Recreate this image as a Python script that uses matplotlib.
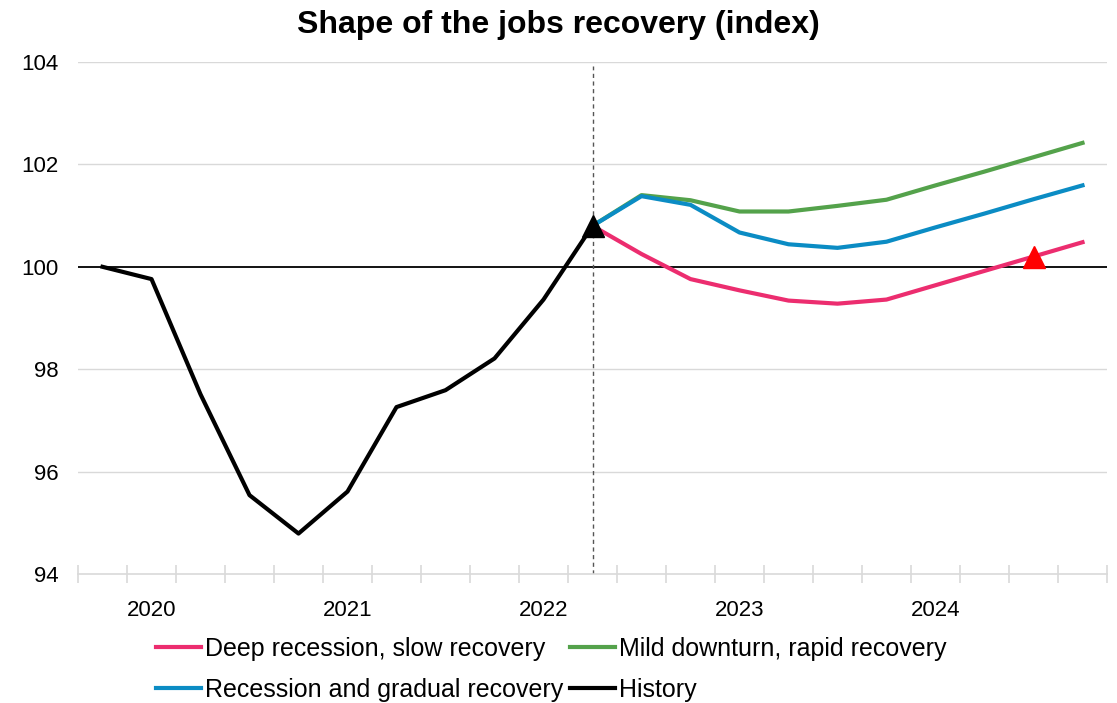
import matplotlib
matplotlib.use("Agg")
import matplotlib.pyplot as plt
import numpy as np

plt.rcParams['font.family'] = ['Liberation Sans', 'DejaVu Sans']

# quarterly categories, 2019Q4 .. 2024Q4
quarters = ['2019Q4', '2020Q1', '2020Q2', '2020Q3', '2020Q4',
            '2021Q1', '2021Q2', '2021Q3', '2021Q4',
            '2022Q1', '2022Q2', '2022Q3', '2022Q4',
            '2023Q1', '2023Q2', '2023Q3', '2023Q4',
            '2024Q1', '2024Q2', '2024Q3', '2024Q4']
year_labels = ['2020', '2021', '2022', '2023', '2024']
year_label_quarters = ['2020Q1', '2021Q1', '2022Q1', '2023Q1', '2024Q1']

history = [100.0, 99.76, 97.51, 95.54, 94.79, 95.61, 97.26, 97.59, 98.21, 99.36, 100.8]

# scenarios start at the last history quarter (2022Q2)
deep_recession = [100.8, 100.25, 99.76, 99.54, 99.34, 99.28, 99.36, 99.64, 99.92, 100.2, 100.48]
mild_downturn = [100.8, 101.4, 101.3, 101.08, 101.08, 101.19, 101.31, 101.59, 101.86, 102.14, 102.42]
gradual_recovery = [100.8, 101.38, 101.21, 100.67, 100.44, 100.37, 100.49, 100.77, 101.04, 101.32, 101.59]

recovery_marker_quarter = '2024Q3'

c_pink = '#EC2D6F'
c_green = '#54A24B'
c_blue = '#0B8CC4'
c_black = '#000000'

x_all = np.arange(len(quarters))
x_hist = x_all[:len(history)]
x_fc = x_all[len(history) - 1:]

fig = plt.figure(figsize=(11.17, 7.03), dpi=100)
ax = fig.add_axes([78 / 1117, 1 - 574 / 703, (1107 - 78) / 1117, (574 - 62) / 703])

ax.set_ylim(94, 104)
ax.set_xlim(-0.5, len(quarters) - 0.5)
ax.set_yticks([94, 96, 98, 100, 102, 104])
for y in [96, 98, 102, 104]:
    ax.axhline(y, color='#D9D9D9', lw=1, zorder=0)
ax.axhline(100, color='black', lw=1.3, zorder=1)

ax.axvline(x_hist[-1], ymin=0, ymax=0.992, color='#555555', lw=1, ls=(0, (3, 2.5)), zorder=1)

ax.plot(x_fc, deep_recession, color=c_pink, lw=3, label='Deep recession, slow recovery', zorder=3)
ax.plot(x_fc, gradual_recovery, color=c_blue, lw=3, label='Recession and gradual recovery', zorder=3)
ax.plot(x_fc, mild_downturn, color=c_green, lw=3, label='Mild downturn, rapid recovery', zorder=2)
ax.plot(x_hist, history, color=c_black, lw=3, label='History', zorder=4)

ax.plot(x_hist[-1], history[-1], marker='^', ms=16, color=c_black, ls='none', zorder=5)
mi = quarters.index(recovery_marker_quarter)
ax.plot(mi, deep_recession[mi - x_fc[0]], marker='^', ms=16, color='#FF0000', ls='none', zorder=5)

# year labels on quarter centres, tick marks between quarters
ax.set_xticks([quarters.index(q) for q in year_label_quarters])
ax.set_xticklabels(year_labels)
ax.set_xticks(np.arange(-0.5, len(quarters)), minor=True)
ax.tick_params(axis='x', which='major', length=0, pad=18.5, labelsize=16)
ax.tick_params(axis='x', which='minor', length=13, direction='inout', color='#D9D9D9', width=1.2)
ax.tick_params(axis='y', length=0, pad=14, labelsize=16)

for s in ['left', 'right', 'top']:
    ax.spines[s].set_visible(False)
ax.spines['bottom'].set_color('#D9D9D9')
ax.spines['bottom'].set_linewidth(1.2)

fig.suptitle('Shape of the jobs recovery (index)', fontsize=23, fontweight='bold', x=0.5, y=1 - 25 / 703, va='center')

handles, labels = ax.get_legend_handles_labels()
fig.legend(handles, labels,
           ncol=2, loc='center', bbox_to_anchor=(551 / 1117, 1 - 669.5 / 703),
           frameon=False, fontsize=18, handlelength=1.8, handletextpad=0.16,
           columnspacing=0.28, labelspacing=0.67)

fig.savefig('out.png', dpi=100)
